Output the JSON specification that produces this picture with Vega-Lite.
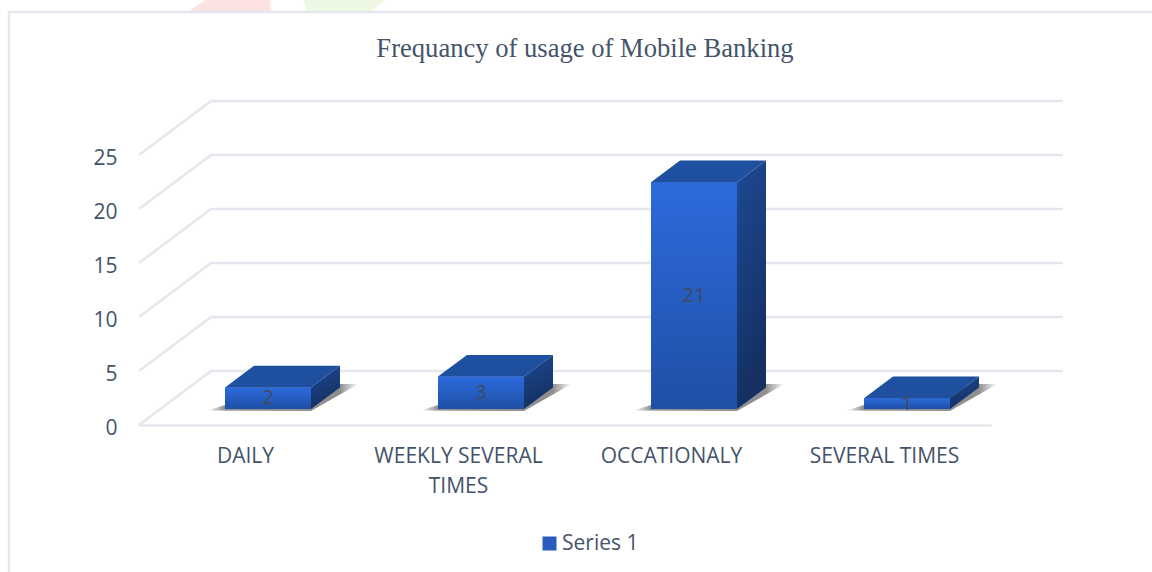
{
"$schema":"https://vega.github.io/schema/vega-lite/v6.json",
"autosize":{"type":"none"},
"padding":{"left":139,"top":155,"right":161,"bottom":147},
"width":852,"height":270,
"background":"white",
"config":{"view":{"stroke":null}},
"title":{"text":"Frequancy of usage of Mobile Banking","font":"Liberation Serif","fontSize":26.6,"fontWeight":"normal","color":"#44546a","anchor":"middle","dx":20,"offset":-63},
"datasets":{
"bars":[
{"category":"DAILY","value":2,"series":"Series 1"},
{"category":"WEEKLY SEVERAL TIMES","value":3,"series":"Series 1"},
{"category":"OCCATIONALY","value":21,"series":"Series 1"},
{"category":"SEVERAL TIMES","value":1,"series":"Series 1"}],
"ticks":[{"tick":0},{"tick":5},{"tick":10},{"tick":15},{"tick":20},{"tick":25}],
"base":[{"tick":0}]
},
"encoding":{
"x":{"field":"category","type":"nominal","sort":null,"scale":{"domain":["DAILY","WEEKLY SEVERAL TIMES","OCCATIONALY","SEVERAL TIMES"],"paddingInner":0,"paddingOuter":0},
"axis":{"title":null,"labelAngle":0,"ticks":false,"domain":true,"domainColor":"#e4e7ed","domainWidth":2.5,"grid":false,"labelFont":"Open Sans","labelFontSize":21,"labelColor":"#44546a","labelPadding":31,"labelLineHeight":30,"labelBaseline":"middle","labelExpr":"datum.label == 'WEEKLY SEVERAL TIMES' ? ['WEEKLY SEVERAL','TIMES'] : datum.label"}},
"y":{"field":"value","type":"quantitative","scale":{"domain":[0,25]},
"axis":{"title":null,"values":[0,5,10,15,20,25],"grid":false,"domain":false,"ticks":false,"labelFont":"Open Sans","labelFontSize":21,"labelColor":"#44546a","labelPadding":22,"labelOffset":3}}
},
"layer":[
{"data":{"name":"base"},
 "mark":{"type":"point","shape":"M-58,-413 L-40,-425 L25,-425 L25,-413 Z","size":4,"filled":true,"fill":"#fde2e2","opacity":1,"stroke":null},
 "encoding":{"x":{"datum":"DAILY"},"y":{"field":"tick","type":"quantitative"}}},
{"data":{"name":"base"},
 "mark":{"type":"point","shape":"M62,-413 L58,-425 L140,-425 L124,-413 Z","size":4,"filled":true,"fill":"#ecf8e2","opacity":1,"stroke":null},
 "encoding":{"x":{"datum":"DAILY"},"y":{"field":"tick","type":"quantitative"}}},
{"data":{"name":"base"},
 "mark":{"type":"point","shape":"M-236.5,147 L-236.5,-413 L906.5,-413","size":4,"filled":false,"stroke":"#e4e7ed","strokeWidth":2.5,"opacity":1},
 "encoding":{"x":{"datum":"DAILY"},"y":{"field":"tick","type":"quantitative"}}},
{"data":{"name":"ticks"},
 "mark":{"type":"point","shape":"M-106.5,0 L-34.5,-54 L817.5,-54","size":4,"filled":false,"stroke":"#e4e7ed","strokeWidth":2.5,"opacity":1},
 "encoding":{"x":{"datum":"DAILY"},"y":{"field":"tick","type":"quantitative"}}},
{"data":{"name":"bars"},
 "mark":{"type":"point","shape":"M-38,-14.5 L-20.5,-20 L94.5,-41 L113,-41 L65.5,-14 Z","size":4,"filled":true,"opacity":1,"stroke":null,
  "fill":{"gradient":"linear","x1":0,"y1":0,"x2":1,"y2":0,"stops":[{"offset":0,"color":"#ffffff"},{"offset":0.115,"color":"#8f8f8f"},{"offset":0.877,"color":"#8f8f8f"},{"offset":1,"color":"#ffffff"}]}},
 "encoding":{"y":{"datum":0}}},
{"data":{"name":"bars"},
 "mark":{"type":"bar","width":86,"xOffset":22.5,"yOffset":-16},
 "encoding":{"color":{"field":"series","type":"nominal","scale":{"domain":["Series 1"],"range":["#2a5cc0"]},
  "legend":{"title":null,"orient":"none","legendX":400,"legendY":378,"symbolType":"square","symbolSize":196,"symbolStrokeWidth":0,"labelOffset":2,"labelFont":"Open Sans","labelFontSize":21,"labelColor":"#44546a"}}}},
{"data":{"name":"bars"},
 "mark":{"type":"bar","width":86,"xOffset":22.5,"yOffset":-16,
  "color":{"gradient":"linear","x1":0,"y1":0,"x2":0,"y2":1,"stops":[{"offset":0,"color":"#2c6bdc"},{"offset":1,"color":"#1f4fa6"}]}}},
{"data":{"name":"bars"},
 "mark":{"type":"point","shape":"M-20.5,-16 L8.5,-37.6 L94.5,-37.6 L65.5,-16 Z","size":4,"filled":true,"fill":"#1f4f9f","opacity":1,"stroke":null}},
{"data":{"name":"bars"},
 "mark":{"type":"point","size":4,"filled":true,"opacity":1,"stroke":null,
  "fill":{"gradient":"linear","x1":0,"y1":0,"x2":0.3,"y2":1,"stops":[{"offset":0,"color":"#1e4a96"},{"offset":1,"color":"#142f60"}]}},
 "encoding":{"shape":{"field":"category","type":"nominal","legend":null,"scale":{"domain":["DAILY","WEEKLY SEVERAL TIMES","OCCATIONALY","SEVERAL TIMES"],
  "range":["M65.5,-16 L94.5,-37.6 L94.5,-16 L65.5,5.6 Z","M65.5,-16 L94.5,-37.6 L94.5,-5.2 L65.5,16.4 Z","M65.5,-16 L94.5,-37.6 L94.5,189.2 L65.5,210.8 Z","M65.5,-16 L94.5,-37.6 L94.5,-26.8 L65.5,-5.2 Z"]}}}},
{"data":{"name":"bars"},
 "transform":[{"calculate":"datum.value/2","as":"mid"}],
 "mark":{"type":"text","dx":22.5,"dy":-16,"font":"Open Sans","fontSize":20,"color":"#404a5c","baseline":"middle"},
 "encoding":{"y":{"field":"mid","type":"quantitative"},"text":{"field":"value","type":"quantitative"}}}
]
}
